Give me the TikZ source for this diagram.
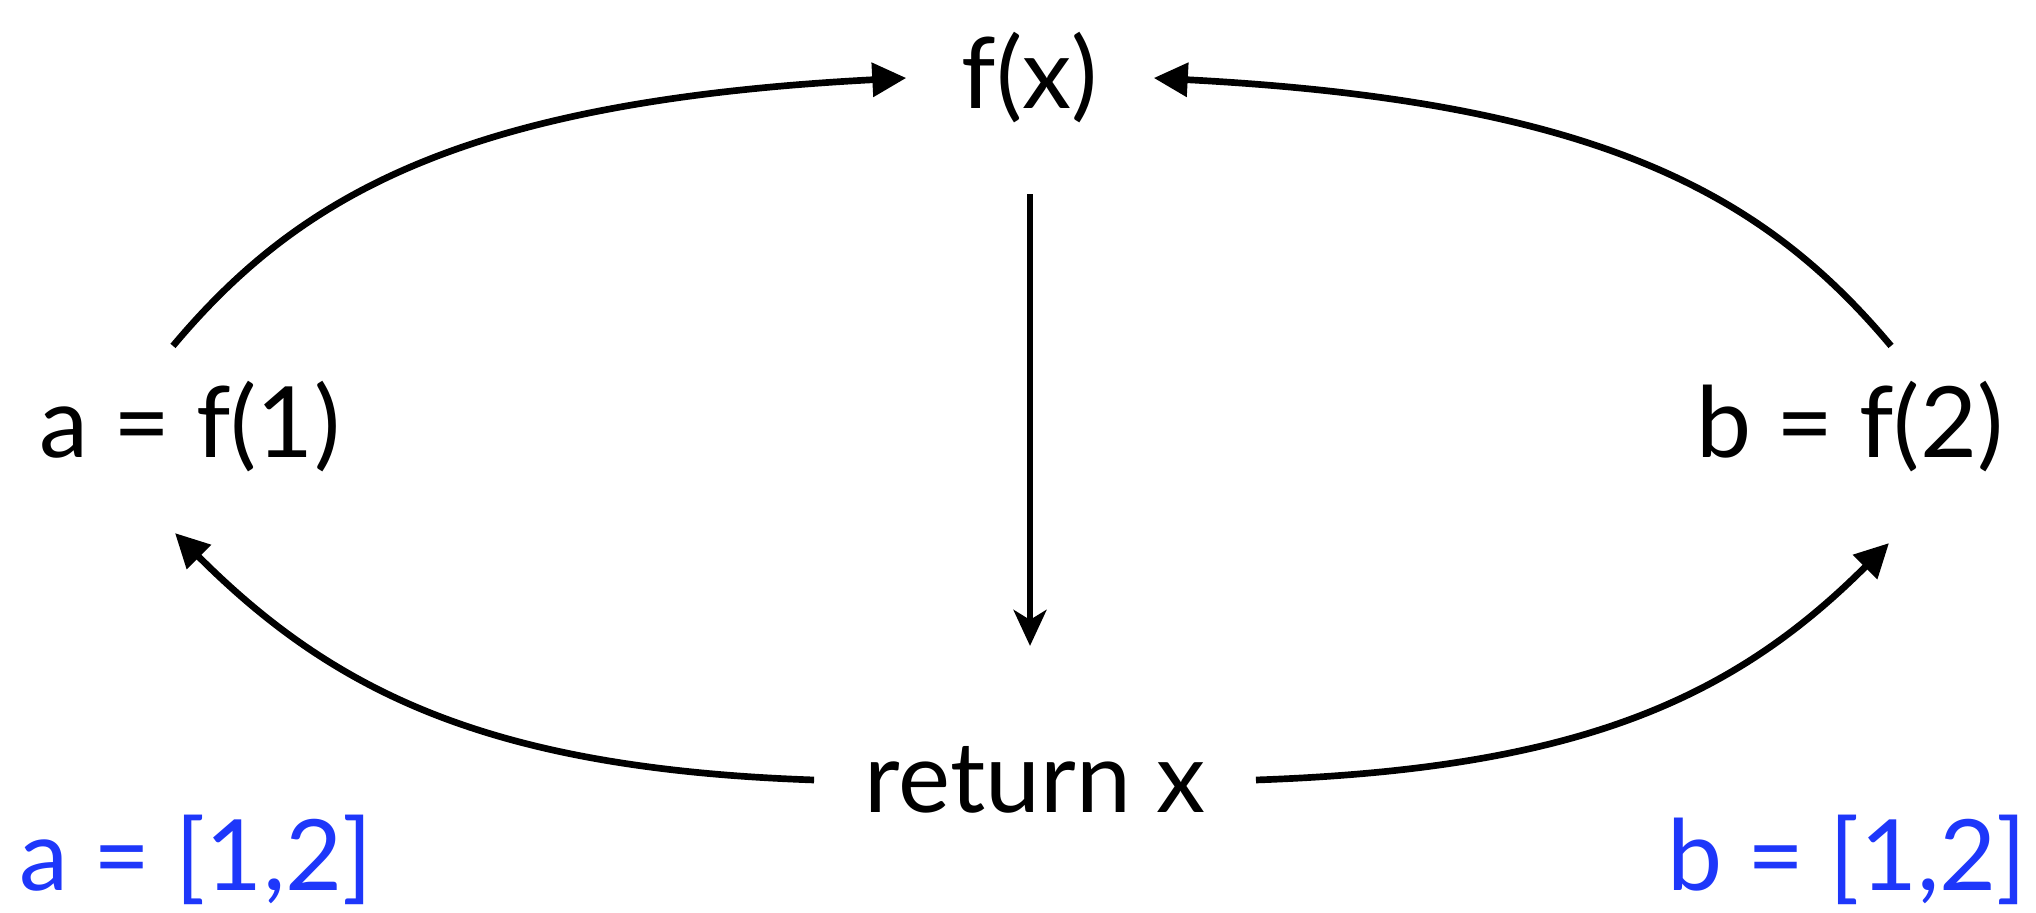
\documentclass[tikz,border=0pt]{standalone}
\usepackage{fontspec}
\setmainfont{Lato}
\usepackage{tikz}
\usetikzlibrary{arrows.meta, positioning}

\definecolor{listblue}{RGB}{30,55,250}

\begin{document}
\begin{tikzpicture}[
        label/.style={font=\fontsize{28}{34}\selectfont, inner sep=0pt},
        listlabel/.style={label, text=listblue},
        arrow/.style={line width=1.9pt, -{Triangle[length=0.34cm, width=0.33cm]}},
        downarrow/.style={line width=1.5pt, -{Stealth[length=0.36cm, width=0.33cm, inset=0.1cm]}}
        ]

        \useasboundingbox (0,0) rectangle (20.36,9.13);

        \node (fx) [label] at (10.30,8.35) {f(x)};
        \node (fa) [label] at (1.90,4.86) {a = f(1)};
        \node (fb) [label] at (18.50,4.86) {b = f(2)};
        \node (ret) [label] at (10.35,1.33) {return x};

        \node (lista) [listlabel] at (1.96,0.53) {a = [1,2]};
        \node (listb) [listlabel] at (18.47,0.53) {b = [1,2]};

        \draw [arrow] ([xshift=-0.17cm, yshift=0.35cm]fa.north) to[out=50, in=183, out looseness=0.65, in looseness=1.45] ([xshift=-0.55cm]fx.west);
        \draw [arrow] ([xshift=0.41cm, yshift=0.35cm]fb.north) to[out=130, in=-3, out looseness=0.65, in looseness=1.45] ([xshift=0.55cm]fx.east);
        \draw [downarrow] ([yshift=-0.7cm]fx.south) -- ([yshift=1.0cm]fx.south |- ret.north);
        \draw [arrow] ([xshift=-0.5cm]ret.west) to[out=178, in=-45, out looseness=1.2, in looseness=0.85] ([xshift=-0.15cm, yshift=-0.6cm]fa.south);
        \draw [arrow] ([xshift=0.5cm]ret.east) to[out=2, in=225, out looseness=1.2, in looseness=0.85] ([xshift=0.39cm, yshift=-0.7cm]fb.south);

    \end{tikzpicture}
\end{document}
